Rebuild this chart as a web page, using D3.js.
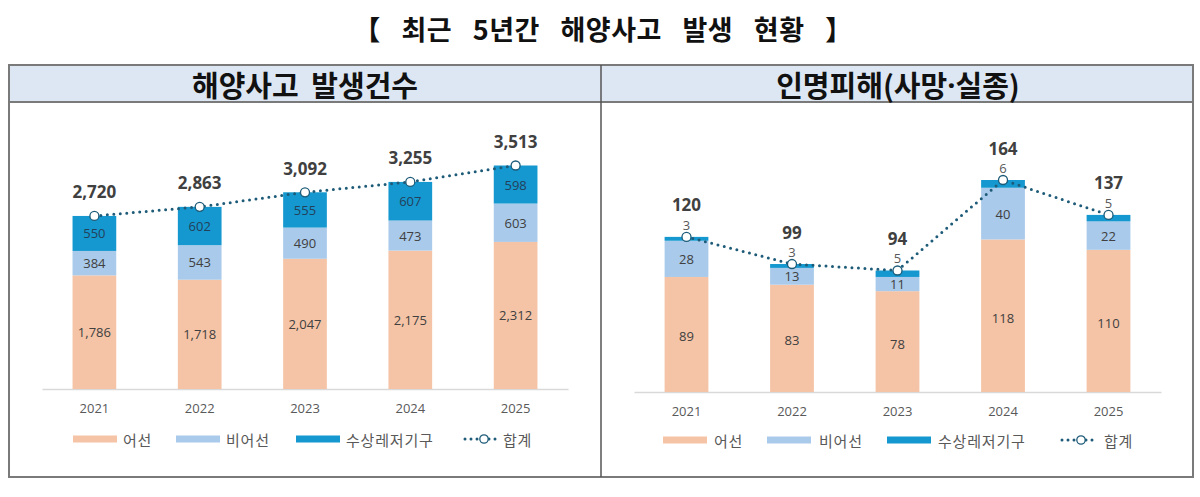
<!DOCTYPE html>
<html><head><meta charset="utf-8">
<script src="https://cdn.jsdelivr.net/npm/d3@7"></script>
<style>
html,body{margin:0;padding:0;background:#fff;}
svg{display:block;}
</style></head>
<body>
<svg id="c" width="1200" height="497"></svg>
<script>
const years = ["2021","2022","2023","2024","2025"];
const seriesNames = ["어선","비어선","수상레저기구"];
const totalName = "합계";
// 해양사고 발생건수
const accFishing = [1786,1718,2047,2175,2312];
const accNonFishing = [384,543,490,473,603];
const accLeisure = [550,602,555,607,598];
const accTotal = [2720,2863,3092,3255,3513];
// 인명피해(사망·실종)
const casFishing = [89,83,78,118,110];
const casNonFishing = [28,13,11,40,22];
const casLeisure = [3,3,5,6,5];
const casTotal = [120,99,94,164,137];

const mainTitle = "【 최근 5년간 해양사고 발생 현황 】";
const leftTitle = ["해양사고 발생건수"];
const rightTitle = ["인명피해(사망","·","실종)"];

const colors = ["#f5c4a6","#a9caea","#1598cf"];
const lineColor = "#1d5b78";
const KR = "'Noto Sans CJK KR','Noto Sans',sans-serif";
const NUM = "'Open Sans','Noto Sans',sans-serif";
const fmt = d3.format(",");

const svg = d3.select("#c");

svg.append("text").attr("x",603).attr("y",28).attr("text-anchor","middle")
  .attr("dominant-baseline","central").attr("font-family",KR).attr("font-weight","bold")
  .attr("font-size",27).attr("fill","#111").attr("word-spacing",14).attr("letter-spacing",0.5)
  .text(mainTitle);

// frame
const box = {x0:9,x1:1193,y0:65,y1:477,hy:102,mid:601};
svg.append("rect").attr("x",box.x0).attr("y",box.y0).attr("width",box.x1-box.x0).attr("height",box.hy-box.y0)
  .attr("fill","#dde7f3");
svg.append("rect").attr("x",box.x0).attr("y",box.y0).attr("width",box.x1-box.x0).attr("height",box.y1-box.y0)
  .attr("fill","none").attr("stroke","#7a7a7a").attr("stroke-width",2);
svg.append("line").attr("x1",box.x0).attr("x2",box.x1).attr("y1",box.hy).attr("y2",box.hy)
  .attr("stroke","#7a7a7a").attr("stroke-width",2);
svg.append("line").attr("x1",box.mid).attr("x2",box.mid).attr("y1",box.y0).attr("y2",box.y1)
  .attr("stroke","#555").attr("stroke-width",1.5);

function header(parts, cx, ws){
  const t = svg.append("text").attr("x",cx).attr("y",84).attr("text-anchor","middle")
    .attr("dominant-baseline","central").attr("font-family",KR).attr("font-weight","bold")
    .attr("font-size",29).attr("fill","#111").attr("word-spacing",ws);
  parts.forEach(p=>{
    const s = t.append("tspan").text(p);
    if(p==="·") s.attr("font-family",NUM);
  });
}
header(leftTitle, 305, 6);
header(rightTitle, 898, 0);

function panel(cfg){
  const g = svg.append("g");
  const x = d3.scaleBand().domain(years).range([cfg.ax0,cfg.ax1]).paddingInner(0.585).paddingOuter(0.29);
  const y = d3.scaleLinear().domain([0,cfg.ymax]).range([cfg.base,cfg.top]);
  const rows = years.map((yr,i)=>({year:yr, v:[cfg.s[0][i],cfg.s[1][i],cfg.s[2][i]], total:cfg.total[i]}));
  const stack = d3.stack().keys([0,1,2]).value((d,k)=>d.v[k])(rows);

  // axis
  const axis = d3.axisBottom(x).tickSize(0).tickPadding(0);
  const ag = g.append("g").attr("transform",`translate(0,${cfg.base})`).call(axis);
  ag.select(".domain").attr("stroke","#d9d9d9").attr("stroke-width",1.5);
  ag.selectAll("text").attr("font-family",NUM).attr("font-size",13).attr("fill","#595959")
    .attr("dy",0).attr("y",cfg.yearY-cfg.base).attr("dominant-baseline","central");

  stack.forEach((layer,k)=>{
    g.selectAll(null).data(layer).join("rect")
      .attr("x",d=>x(d.data.year)).attr("width",x.bandwidth())
      .attr("y",d=>y(d[1])).attr("height",d=>y(d[0])-y(d[1]))
      .attr("fill",colors[k]);
  });
  // inner labels
  stack.forEach((layer,k)=>{
    if(!cfg.inner[k]) return;
    g.selectAll(null).data(layer).join("text")
      .attr("x",d=>x(d.data.year)+x.bandwidth()/2)
      .attr("y",d=>(y(d[0])+y(d[1]))/2+cfg.innerDy[k])
      .attr("text-anchor","middle").attr("dominant-baseline","central")
      .attr("font-family",NUM).attr("font-size",13).attr("fill",k===2?"#23405a":"#404040")
      .text(d=>fmt(d.data.v[k]));
  });
  // small labels above (casualty leisure)
  if(cfg.above){
    g.selectAll(null).data(rows).join("text")
      .attr("x",d=>x(d.year)+x.bandwidth()/2).attr("y",d=>y(d.total)-12)
      .attr("text-anchor","middle").attr("dominant-baseline","central")
      .attr("font-family",NUM).attr("font-size",13).attr("fill","#595959")
      .text(d=>fmt(d.v[2]));
  }
  // total line
  const line = d3.line().x(d=>x(d.year)+x.bandwidth()/2).y(d=>y(d.total));
  g.append("path").datum(rows).attr("d",line).attr("fill","none")
    .attr("stroke",lineColor).attr("stroke-width",3).attr("stroke-linecap","round")
    .attr("stroke-dasharray","0,6.5");
  g.selectAll(null).data(rows).join("circle")
    .attr("cx",d=>x(d.year)+x.bandwidth()/2).attr("cy",d=>y(d.total)).attr("r",4.5)
    .attr("fill","#fff").attr("stroke",lineColor).attr("stroke-width",1.3);
  // total labels
  g.selectAll(null).data(rows).join("text")
    .attr("x",d=>x(d.year)+x.bandwidth()/2).attr("y",d=>y(d.total)-cfg.totalOff)
    .attr("text-anchor","middle").attr("dominant-baseline","central")
    .attr("font-family",NUM).attr("font-weight","bold").attr("font-size",17).attr("fill","#404040")
    .text(d=>fmt(d.total));

  // legend
  const ly = cfg.legY;
  const L = cfg.leg;
  seriesNames.forEach((n,k)=>{
    g.append("rect").attr("x",L[k][0]).attr("y",ly-3.5).attr("width",44).attr("height",7).attr("fill",colors[k]);
    g.append("text").attr("x",L[k][1]).attr("y",ly).attr("dominant-baseline","central")
      .attr("font-family",KR).attr("font-size",15).attr("fill","#595959").attr("letter-spacing",0.8).text(n);
  });
  const lx0 = L[3][0];
  g.append("line").attr("x1",lx0+2).attr("x2",lx0+33).attr("y1",ly).attr("y2",ly)
    .attr("stroke",lineColor).attr("stroke-width",3).attr("stroke-linecap","round").attr("stroke-dasharray","0,6");
  g.append("circle").attr("cx",lx0+21).attr("cy",ly).attr("r",4.2).attr("fill","#fff")
    .attr("stroke",lineColor).attr("stroke-width",1.3);
  g.append("text").attr("x",L[3][1]).attr("y",ly).attr("dominant-baseline","central")
    .attr("font-family",KR).attr("font-size",15).attr("fill","#595959").attr("letter-spacing",0.8).text(totalName);
}

panel({
  ax0:42, ax1:568, base:389, yearY:408, legY:439,
  ymax:3513, top:389-223.5,
  s:[accFishing,accNonFishing,accLeisure], total:accTotal,
  inner:[true,true,true], innerDy:[0,0,0], above:false, totalOff:24,
  leg:[[73,123],[176,226],[296,346],[463,503]]
});
panel({
  ax0:634, ax1:1161, base:392, yearY:411, legY:440,
  ymax:164, top:392-212,
  s:[casFishing,casNonFishing,casLeisure], total:casTotal,
  inner:[true,true,false], innerDy:[2,0,0], above:true, totalOff:32,
  leg:[[663,714],[767,819],[887,938],[1060,1104]]
});
</script>
</body></html>
